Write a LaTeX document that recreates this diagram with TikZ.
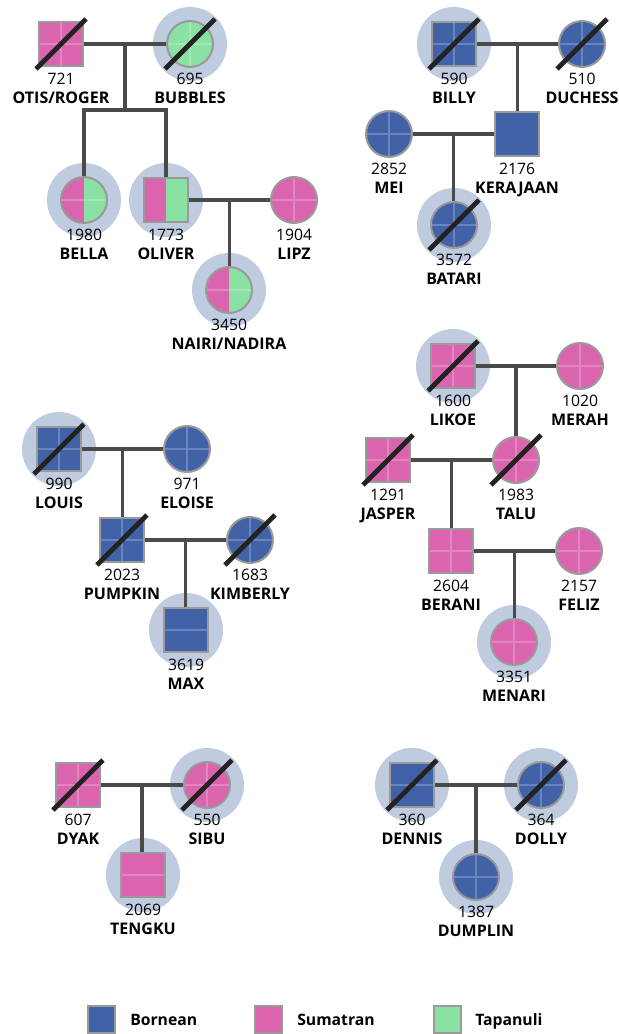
\documentclass[tikz,border=0pt]{standalone}
\usepackage{fontspec}
\setmainfont{Open Sans}
\usetikzlibrary{calc}
\definecolor{born}{HTML}{4262A8}
\definecolor{suma}{HTML}{DA65AE}
\definecolor{tapa}{HTML}{8BE0A3}
\definecolor{halocol}{HTML}{BFCBDF}
\definecolor{edgecol}{HTML}{9A9A9A}
\definecolor{conn}{HTML}{4A4A4A}
\definecolor{slashc}{HTML}{222222}
\newcommand{\lab}[3]{%
  \node[numtxt] (#1-n) at ($(#1.center)+(0,35)$) {#2};
  \node[nametxt] (#1-t) at ($(#1.center)+(0,54)$) {#3};}
\newcommand{\dead}[1]{\draw[slashline] ($(#1.center)+(-25,25)$) -- ($(#1.center)+(25,-25)$);}
\begin{document}
\begin{tikzpicture}[x=0.75pt,y=-0.75pt,
  person/.style={minimum size=33pt, inner sep=0pt, draw=edgecol, line width=1.5pt},
  male/.style={person, rectangle},
  female/.style={person, circle, minimum size=34.5pt},
  halo/.style={circle, fill=halocol, minimum size=55.5pt, inner sep=0pt},
  link/.style={draw=conn, line width=2.5pt},
  slashline/.style={draw=slashc, line width=3.6pt},
  numtxt/.style={font=\fontsize{11.8}{12}\selectfont, inner sep=0pt, text height=8.4pt, text depth=0pt},
  nametxt/.style={font=\fontsize{12}{13}\selectfont\bfseries, inner sep=0pt, text height=8.6pt, text depth=0pt},
  legtxt/.style={font=\fontsize{11.8}{12}\selectfont\bfseries, inner sep=0pt, text height=8.4pt, text depth=0pt, anchor=west},
  cross/.style={path picture={\draw[white, opacity=.22, line width=0.8pt]
      (path picture bounding box.north) -- (path picture bounding box.south)
      (path picture bounding box.west) -- (path picture bounding box.east);}},
  hline/.style={path picture={\draw[white, opacity=.22, line width=0.8pt]
      (path picture bounding box.west) -- (path picture bounding box.east);}},
  split/.style={path picture={
      \fill[suma] (path picture bounding box.south west) rectangle (path picture bounding box.north);
      \fill[tapa] (path picture bounding box.south) rectangle (path picture bounding box.north east);}},
  splith/.style={path picture={
      \fill[suma] (path picture bounding box.south west) rectangle (path picture bounding box.north);
      \fill[tapa] (path picture bounding box.south) rectangle (path picture bounding box.north east);
      \draw[white, opacity=.22, line width=0.8pt] (path picture bounding box.west) -- (path picture bounding box.east);}},
]
\useasboundingbox (0,0) rectangle (618,1034);
\fill[white] (0,0) rectangle (618,1034);

% ---------- halos ----------
\node[halo] (h-bubbles) at (190,44) {};
\node[halo] (h-bella) at (84,200) {};
\node[halo] (h-oliver) at (166,200) {};
\node[halo] (h-nairi) at (229,290) {};
\node[halo] (h-billy) at (454,44) {};
\node[halo] (h-batari) at (454,225) {};
\node[halo] (h-louis) at (59,449) {};
\node[halo] (h-max) at (186,630) {};
\node[halo] (h-likoe) at (453,366) {};
\node[halo] (h-menari) at (514,642) {};
\node[halo] (h-sibu) at (207,785) {};
\node[halo] (h-tengku) at (143,875) {};
\node[halo] (h-dennis) at (412,785) {};
\node[halo] (h-dolly) at (541,785) {};
\node[halo] (h-dumplin) at (476,877) {};

% ---------- family 1 ----------
\node[male, fill=suma, cross] (otis) at (61,44) {};
\node[female, fill=tapa, cross] (bubbles) at (190,44) {};
\node[female, splith] (bella) at (84,200) {};
\node[male, split] (oliver) at (166,200) {};
\node[female, fill=suma, cross] (lipz) at (294,200) {};
\node[female, splith] (nairi) at (229,290) {};
\coordinate (s1) at (125,110);
\draw[link] (otis) -- (bubbles);
\coordinate (m1) at ($(otis.east)!.5!(bubbles.west)$);
\draw[link] (m1) -- (m1 |- s1);
\draw[link] (bella.north) |- (s1) -| (oliver.north);
\draw[link] (oliver) -- (lipz);
\coordinate (m2) at ($(oliver.east)!.5!(lipz.west)$);
\draw[link] (m2) -- (m2 |- nairi.north);
\dead{otis}\dead{bubbles}
\lab{otis}{721}{OTIS/ROGER}
\lab{bubbles}{695}{BUBBLES}
\lab{bella}{1980}{BELLA}
\lab{oliver}{1773}{OLIVER}
\lab{lipz}{1904}{LIPZ}
\lab{nairi}{3450}{NAIRI/NADIRA}

% ---------- family 2 ----------
\node[male, fill=born, cross] (billy) at (454,44) {};
\node[female, fill=born, cross] (duchess) at (582,44) {};
\node[male, fill=born] (kerajaan) at (517,134) {};
\node[female, fill=born, cross] (mei) at (389,134) {};
\node[female, fill=born, cross] (batari) at (454,225) {};
\draw[link] (billy) -- (duchess);
\coordinate (m3) at ($(billy.east)!.5!(duchess.west)$);
\draw[link] (m3) -- (m3 |- kerajaan.north);
\draw[link] (mei) -- (kerajaan);
\coordinate (m4) at ($(mei.east)!.5!(kerajaan.west)$);
\draw[link] (m4) -- (m4 |- batari.north);
\dead{billy}\dead{duchess}\dead{batari}
\lab{billy}{590}{BILLY}
\lab{duchess}{510}{DUCHESS}
\lab{kerajaan}{2176}{KERAJAAN}
\lab{mei}{2852}{MEI}
\lab{batari}{3572}{BATARI}

% ---------- family 3 ----------
\node[male, fill=born, cross] (louis) at (59,449) {};
\node[female, fill=born, cross] (eloise) at (187,449) {};
\node[male, fill=born, cross] (pumpkin) at (122,540) {};
\node[female, fill=born, cross] (kimberly) at (250,540) {};
\node[male, fill=born, hline] (max) at (186,630) {};
\draw[link] (louis) -- (eloise);
\coordinate (m5) at ($(louis.east)!.5!(eloise.west)$);
\draw[link] (m5) -- (m5 |- pumpkin.north);
\draw[link] (pumpkin) -- (kimberly);
\coordinate (m6) at ($(pumpkin.east)!.5!(kimberly.west)$);
\draw[link] (m6) -- (m6 |- max.north);
\dead{louis}\dead{pumpkin}\dead{kimberly}
\lab{louis}{990}{LOUIS}
\lab{eloise}{971}{ELOISE}
\lab{pumpkin}{2023}{PUMPKIN}
\lab{kimberly}{1683}{KIMBERLY}
\lab{max}{3619}{MAX}

% ---------- family 4 ----------
\node[male, fill=suma, cross] (likoe) at (453,366) {};
\node[female, fill=suma, cross] (merah) at (580,366) {};
\node[female, fill=suma, cross] (talu) at (516,460) {};
\node[male, fill=suma, cross] (jasper) at (388,460) {};
\node[male, fill=suma, cross] (berani) at (451,551) {};
\node[female, fill=suma, cross] (feliz) at (579,551) {};
\node[female, fill=suma, cross] (menari) at (514,642) {};
\draw[link] (likoe) -- (merah);
\coordinate (m7) at ($(likoe.east)!.5!(merah.west)$);
\draw[link] (m7) -- (m7 |- talu.north);
\draw[link] (jasper) -- (talu);
\coordinate (m8) at ($(jasper.east)!.5!(talu.west)$);
\draw[link] (m8) -- (m8 |- berani.north);
\draw[link] (berani) -- (feliz);
\coordinate (m9) at ($(berani.east)!.5!(feliz.west)$);
\draw[link] (m9) -- (m9 |- menari.north);
\dead{likoe}\dead{talu}\dead{jasper}
\lab{likoe}{1600}{LIKOE}
\lab{merah}{1020}{MERAH}
\lab{talu}{1983}{TALU}
\lab{jasper}{1291}{JASPER}
\lab{berani}{2604}{BERANI}
\lab{feliz}{2157}{FELIZ}
\lab{menari}{3351}{MENARI}

% ---------- family 5 ----------
\node[male, fill=suma, cross] (dyak) at (78,785) {};
\node[female, fill=suma, cross] (sibu) at (207,785) {};
\node[male, fill=suma, hline] (tengku) at (143,875) {};
\draw[link] (dyak) -- (sibu);
\coordinate (m10) at ($(dyak.east)!.5!(sibu.west)$);
\draw[link] (m10) -- (m10 |- tengku.north);
\dead{dyak}\dead{sibu}
\lab{dyak}{607}{DYAK}
\lab{sibu}{550}{SIBU}
\lab{tengku}{2069}{TENGKU}

% ---------- family 6 ----------
\node[male, fill=born, hline] (dennis) at (412,785) {};
\node[female, fill=born, cross] (dolly) at (541,785) {};
\node[female, fill=born, cross] (dumplin) at (476,877) {};
\draw[link] (dennis) -- (dolly);
\coordinate (m11) at ($(dennis.east)!.5!(dolly.west)$);
\draw[link] (m11) -- (m11 |- dumplin.north);
\dead{dennis}\dead{dolly}
\lab{dennis}{360}{DENNIS}
\lab{dolly}{364}{DOLLY}
\lab{dumplin}{1387}{DUMPLIN}

% ---------- legend ----------
\node[male, fill=born, minimum size=20.25pt] (lg-b) at (101.5,1019) {};
\node[legtxt] (lg-bt) at (130,1020) {Bornean};
\node[male, fill=suma, minimum size=20.25pt] (lg-s) at (268.5,1019) {};
\node[legtxt] (lg-st) at (297,1020) {Sumatran};
\node[male, fill=tapa, minimum size=20.25pt] (lg-t) at (447,1019) {};
\node[legtxt] (lg-tt) at (475,1020) {Tapanuli};
\end{tikzpicture}
\end{document}
